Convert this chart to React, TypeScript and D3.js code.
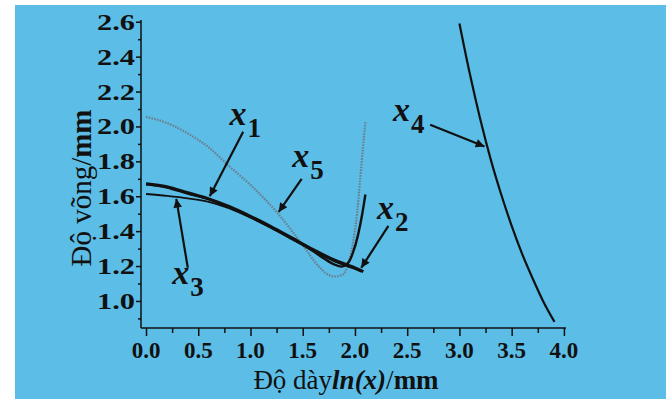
import React, { useEffect, useRef } from 'react';
import * as d3 from 'd3';

// curve data: [ln(x), deflection]
const x1Data: [number, number][] = [
  [0, 1.668], [0.2, 1.65], [0.4, 1.615], [0.6, 1.583], [0.8, 1.535], [1.0, 1.48],
  [1.2, 1.42], [1.4, 1.355], [1.5, 1.322], [1.6, 1.285], [1.7, 1.245], [1.8, 1.21],
  [1.87, 1.197], [1.93, 1.215], [1.98, 1.275], [2.03, 1.38], [2.07, 1.5], [2.1, 1.61],
];
const x2Data: [number, number][] = [
  [0, 1.672], [0.2, 1.655], [0.4, 1.62], [0.6, 1.585], [0.8, 1.54], [1.0, 1.485],
  [1.2, 1.425], [1.4, 1.36], [1.6, 1.295], [1.8, 1.235], [2.0, 1.19], [2.08, 1.168],
];
const x3Data: [number, number][] = [
  [0, 1.613], [0.2, 1.602], [0.4, 1.588], [0.6, 1.568], [0.8, 1.53], [1.0, 1.478],
  [1.2, 1.418], [1.4, 1.353], [1.6, 1.288], [1.8, 1.228], [2.0, 1.183], [2.06, 1.168],
];
const x4Data: [number, number][] = [
  [3.0, 2.59], [3.1, 2.3], [3.2, 2.04], [3.3, 1.81], [3.4, 1.61], [3.5, 1.43],
  [3.6, 1.27], [3.7, 1.13], [3.8, 1.0], [3.91, 0.88],
];
const x5Data: [number, number][] = [
  [0, 2.055], [0.2, 2.02], [0.4, 1.96], [0.6, 1.88], [0.8, 1.77], [1.0, 1.665],
  [1.25, 1.51], [1.5, 1.32], [1.65, 1.2], [1.72, 1.16], [1.8, 1.14], [1.88, 1.15],
  [1.94, 1.22], [1.98, 1.33], [2.02, 1.5], [2.05, 1.7], [2.08, 1.9], [2.1, 2.03],
];

const xTicks = [0, 0.5, 1, 1.5, 2, 2.5, 3, 3.5, 4];
const yTicks = [1.0, 1.2, 1.4, 1.6, 1.8, 2.0, 2.2, 2.4, 2.6];

// annotation arrows: [fromX, fromY, toX, toY]
const arrows: [number, number, number, number][] = [
  [0.93, 1.97, 0.61, 1.6],
  [1.49, 1.7, 1.27, 1.51],
  [2.32, 1.43, 2.06, 1.19],
  [0.4, 1.19, 0.29, 1.585],
  [2.72, 2.01, 3.24, 1.885],
];
const labels: { name: string; sub: string; x: number; y: number }[] = [
  { name: 'x', sub: '1', x: 0.8, y: 2.01 },
  { name: 'x', sub: '5', x: 1.4, y: 1.77 },
  { name: 'x', sub: '2', x: 2.21, y: 1.47 },
  { name: 'x', sub: '4', x: 2.365, y: 2.03 },
  { name: 'x', sub: '3', x: 0.25, y: 1.1 },
];

const W = 669;
const H = 403;
const serif = '"Liberation Serif", "Times New Roman", serif';

const App = () => {
  const ref = useRef<SVGSVGElement>(null);

  useEffect(() => {
    const svg = d3.select(ref.current);
    svg.selectAll('*').remove();

    const x = d3.scaleLinear().domain([-0.048, 4.02]).range([141, 566]);
    const y = d3.scaleLinear().domain([0.845, 2.61]).range([328, 20]);

    svg.append('rect').attr('width', W).attr('height', H).attr('fill', '#fff');
    svg.append('rect').attr('x', 15).attr('y', 5).attr('width', 651).attr('height', 394).attr('fill', '#5cbde6');

    const defs = svg.append('defs');
    defs.append('marker')
      .attr('id', 'arr')
      .attr('viewBox', '0 0 10 10')
      .attr('refX', 10).attr('refY', 5)
      .attr('markerWidth', 6).attr('markerHeight', 4)
      .attr('markerUnits', 'strokeWidth')
      .attr('orient', 'auto')
      .append('path').attr('d', 'M0,0L10,5L0,10z').attr('fill', '#111');

    // axes
    const xAxis = svg.append('g').attr('transform', `translate(0,${y(0.845)})`);
    xAxis.call(d3.axisBottom(x).tickValues(d3.range(0, 4.01, 0.25)).tickSize(5).tickFormat(() => ''));
    xAxis.call(g => g.selectAll('.tick line').filter((d: any) => Math.abs(d * 2 - Math.round(d * 2)) < 1e-6).attr('y2', 8));
    xAxis.select('.domain').attr('d', `M${x(-0.048)},0H${x(4.02)}`);

    const yAxis = svg.append('g').attr('transform', `translate(${x(-0.048)},0)`);
    yAxis.call(d3.axisLeft(y).tickValues(d3.range(0.9, 2.61, 0.1)).tickSize(3).tickFormat(() => ''));
    yAxis.call(g => g.selectAll('.tick line').filter((d: any) => Math.abs(d * 5 - Math.round(d * 5)) < 1e-6).attr('x2', -5));
    yAxis.select('.domain').attr('d', `M0,${y(0.845)}V${y(2.61)}`);

    svg.selectAll('.domain, .tick line').attr('stroke', '#111').attr('stroke-width', 1.5);

    svg.append('g').selectAll('text').data(xTicks).join('text')
      .attr('x', d => x(d)).attr('y', 358)
      .attr('text-anchor', 'middle')
      .attr('font-family', serif).attr('font-weight', 'bold').attr('font-size', 23)
      .attr('fill', '#111')
      .text(d => d.toFixed(1));

    svg.append('g').selectAll('text').data(yTicks).join('text')
      .attr('x', 135).attr('y', d => y(d) + 8)
      .attr('text-anchor', 'end')
      .attr('font-family', serif).attr('font-weight', 'bold').attr('font-size', 24)
      .attr('fill', '#111')
      .attr('textLength', 38).attr('lengthAdjust', 'spacingAndGlyphs')
      .text(d => d.toFixed(1));

    const xt = svg.append('text')
      .attr('x', 346).attr('y', 389).attr('text-anchor', 'middle')
      .attr('font-family', serif).attr('font-size', 27).attr('fill', '#111');
    xt.append('tspan').text('Độ dày');
    xt.append('tspan').attr('font-weight', 'bold').attr('font-style', 'italic').text('ln(x)');
    xt.append('tspan').text('/');
    xt.append('tspan').attr('font-weight', 'bold').text('mm');

    const yt = svg.append('text')
      .attr('transform', 'translate(91,188) rotate(-90)').attr('text-anchor', 'middle')
      .attr('font-family', serif).attr('font-size', 29).attr('fill', '#111');
    yt.append('tspan').text('Độ võng/');
    yt.append('tspan').attr('font-weight', 'bold').text('mm');

    // curves
    const line = d3.line<[number, number]>().x(d => x(d[0])).y(d => y(d[1])).curve(d3.curveMonotoneX);

    svg.append('path').datum(x5Data).attr('d', line).attr('fill', 'none')
      .attr('stroke', '#6a7f90').attr('stroke-width', 2.2).attr('stroke-dasharray', '1.6 1.2');
    svg.append('path').datum(x3Data).attr('d', line).attr('fill', 'none')
      .attr('stroke', '#111').attr('stroke-width', 1.8);
    svg.append('path').datum(x2Data).attr('d', line).attr('fill', 'none')
      .attr('stroke', '#111').attr('stroke-width', 3);
    svg.append('path').datum(x1Data).attr('d', line).attr('fill', 'none')
      .attr('stroke', '#111').attr('stroke-width', 2.4);
    svg.append('path').datum(x4Data).attr('d', line).attr('fill', 'none')
      .attr('stroke', '#111').attr('stroke-width', 2.2);

    // arrows
    svg.append('g').selectAll('line').data(arrows).join('line')
      .attr('x1', d => x(d[0])).attr('y1', d => y(d[1]))
      .attr('x2', d => x(d[2])).attr('y2', d => y(d[3]))
      .attr('stroke', '#111').attr('stroke-width', 2.2)
      .attr('marker-end', 'url(#arr)');

    // labels
    const lg = svg.append('g').selectAll('text').data(labels).join('text')
      .attr('x', d => x(d.x)).attr('y', d => y(d.y))
      .attr('font-family', serif).attr('font-weight', 'bold').attr('fill', '#111');
    lg.append('tspan').attr('font-style', 'italic').attr('font-size', 34).text(d => d.name);
    lg.append('tspan').attr('font-size', 27).attr('dx', 1).attr('dy', 12).text(d => d.sub);
  }, []);

  return (
    <svg ref={ref} width={W} height={H} style={{ position: 'absolute', left: 0, top: 0 }} />
  );
};

export default App;
